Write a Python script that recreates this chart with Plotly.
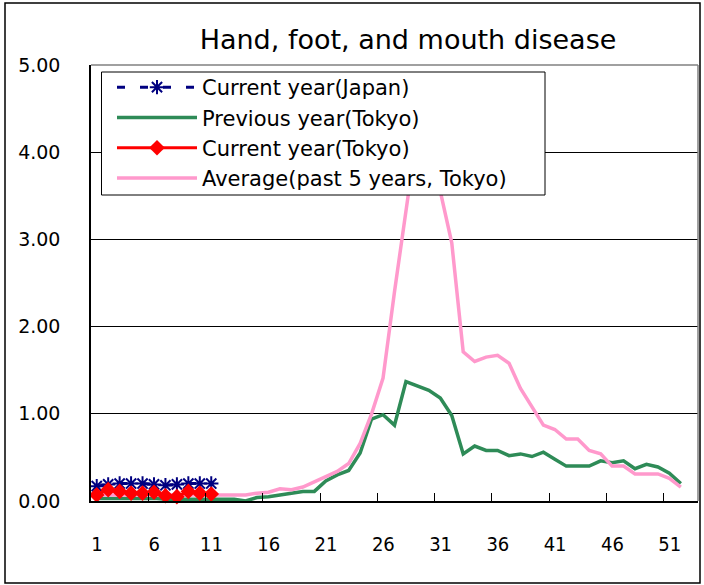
import plotly.graph_objects as go

# ---------------- data ----------------
weeks = list(range(1, 53))
x_tick_labels = ["1", "6", "11", "16", "21", "26", "31", "36", "41", "46", "51"]
y_tick_values = [0, 1, 2, 3, 4, 5]

japan_current = [0.17, 0.19, 0.20, 0.20, 0.20, 0.19, 0.18, 0.19, 0.20, 0.20, 0.20]
tokyo_current = [0.07, 0.13, 0.11, 0.09, 0.09, 0.10, 0.06, 0.05, 0.11, 0.09, 0.08]

tokyo_previous = [
    0.03, 0.03, 0.03, 0.03, 0.03, 0.03, 0.02, 0.02, 0.02, 0.01, 0.01,
    0.02, 0.02, 0.00, 0.04, 0.05, 0.07, 0.09, 0.11, 0.11,
    0.23, 0.30, 0.35, 0.55, 0.94, 0.99, 0.87, 1.37, 1.32, 1.27,
    1.18, 0.98, 0.54, 0.63, 0.58, 0.58, 0.52, 0.54, 0.51, 0.56,
    0.48, 0.40, 0.40, 0.40, 0.46, 0.44, 0.46, 0.37, 0.42, 0.39, 0.32, 0.20,
]
tokyo_avg5 = [
    0.07, 0.07, 0.07, 0.07, 0.06, 0.06, 0.06, 0.06, 0.06, 0.06, 0.06,
    0.06, 0.07, 0.07, 0.09, 0.10, 0.14, 0.13, 0.16, 0.22,
    0.27, 0.34, 0.43, 0.66, 1.00, 1.41, 2.40, 3.33, 4.25, 4.30,
    3.55, 2.96, 1.71, 1.60, 1.65, 1.67, 1.58, 1.29, 1.08, 0.87,
    0.82, 0.71, 0.71, 0.58, 0.54, 0.40, 0.40, 0.31, 0.31, 0.31, 0.26, 0.16,
]

# ---------------- figure ----------------
W, H = 704, 585
ML, MR, MT, MB = 91, 6, 65, 84
PW, PH = W - ML - MR, H - MT - MB


def px_x(px):
    return (px - ML) / PW


def px_y(py):
    return (H - MB - py) / PH


fig = go.Figure()

fig.add_trace(go.Scatter(
    x=weeks, y=tokyo_previous, name="Previous year(Tokyo)", mode="lines",
    line=dict(color="#2E8B57", width=3.5), legendrank=2, cliponaxis=False))
fig.add_trace(go.Scatter(
    x=weeks, y=tokyo_avg5, name="Average(past 5 years, Tokyo)", mode="lines",
    line=dict(color="#FF99CC", width=3.5), legendrank=4, cliponaxis=False))
fig.add_trace(go.Scatter(
    x=weeks[:len(japan_current)], y=japan_current, name="Current year(Japan)",
    mode="lines+markers",
    line=dict(color="#000080", width=3, dash="8px,15px"),
    marker=dict(symbol="asterisk-open", size=12, color="#000080",
                line=dict(color="#000080", width=2)),
    legendrank=1, cliponaxis=False))
fig.add_trace(go.Scatter(
    x=weeks[:len(tokyo_current)], y=tokyo_current, name="Current year(Tokyo)",
    mode="lines+markers",
    line=dict(color="#FF0000", width=3),
    marker=dict(symbol="diamond", size=12, color="#FF0000"),
    legendrank=3, cliponaxis=False))

tick_positions = [weeks[0] - 0.5 + 5 * i for i in range(len(x_tick_labels))]
cat_px = PW / 53.0

fig.update_layout(
    width=W, height=H,
    margin=dict(l=ML, r=MR, t=MT, b=MB, pad=0),
    paper_bgcolor="white", plot_bgcolor="white",
    font=dict(family="DejaVu Sans", color="black"),
    title=dict(text="Hand, foot, and mouth disease",
               font=dict(family="DejaVu Sans", size=27, color="black"),
               x=px_x(408), xref="paper", xanchor="center",
               y=1 - 40 / H, yref="container", yanchor="middle"),
    showlegend=True,
    legend=dict(x=px_x(112), y=px_y(67), xanchor="left", yanchor="top",
                bgcolor="rgba(0,0,0,0)", borderwidth=0,
                font=dict(family="DejaVu Sans", size=21, color="black"),
                itemwidth=80, tracegroupgap=0),
    xaxis=dict(range=[0.5, 53.5], tickmode="array", tickvals=tick_positions,
               ticktext=x_tick_labels, ticks="inside", ticklen=8, tickcolor="black",
               tickwidth=1, ticklabelshift=int(round(cat_px / 2)), ticklabelstandoff=24,
               showgrid=False, zeroline=False, showline=True, linecolor="black",
               linewidth=1.5,
               tickfont=dict(family="DejaVu Sans Condensed", size=20, color="black")),
    yaxis=dict(range=[0, 5], tickmode="array", tickvals=y_tick_values,
               tickformat=".2f", ticks="", showgrid=True, gridcolor="black",
               gridwidth=1, zeroline=False, showline=True, linecolor="black",
               linewidth=1.5, ticklabelstandoff=25,
               tickfont=dict(family="DejaVu Sans", size=19, color="black")),
)

# plot-area border (top / right), legend box and outer chart frame
fig.add_shape(type="line", xref="paper", yref="paper", x0=0, x1=1, y0=1, y1=1,
              line=dict(color="#808080", width=1.5), layer="above")
fig.add_shape(type="line", xref="paper", yref="paper", x0=1, x1=1, y0=0, y1=1,
              line=dict(color="#808080", width=1.5), layer="above")
fig.add_shape(type="rect", xref="paper", yref="paper",
              x0=px_x(101.5), x1=px_x(545), y0=px_y(195), y1=px_y(72),
              line=dict(color="black", width=1), fillcolor="white", layer="above")
fig.add_shape(type="rect", xref="paper", yref="paper",
              x0=px_x(5), x1=px_x(700), y0=px_y(583), y1=px_y(3),
              line=dict(color="black", width=1.5), fillcolor="rgba(0,0,0,0)",
              layer="below")

fig.write_html("out.html", config={"displayModeBar": False},
               post_script="document.body.style.margin='0px';document.body.style.overflow='hidden';")
